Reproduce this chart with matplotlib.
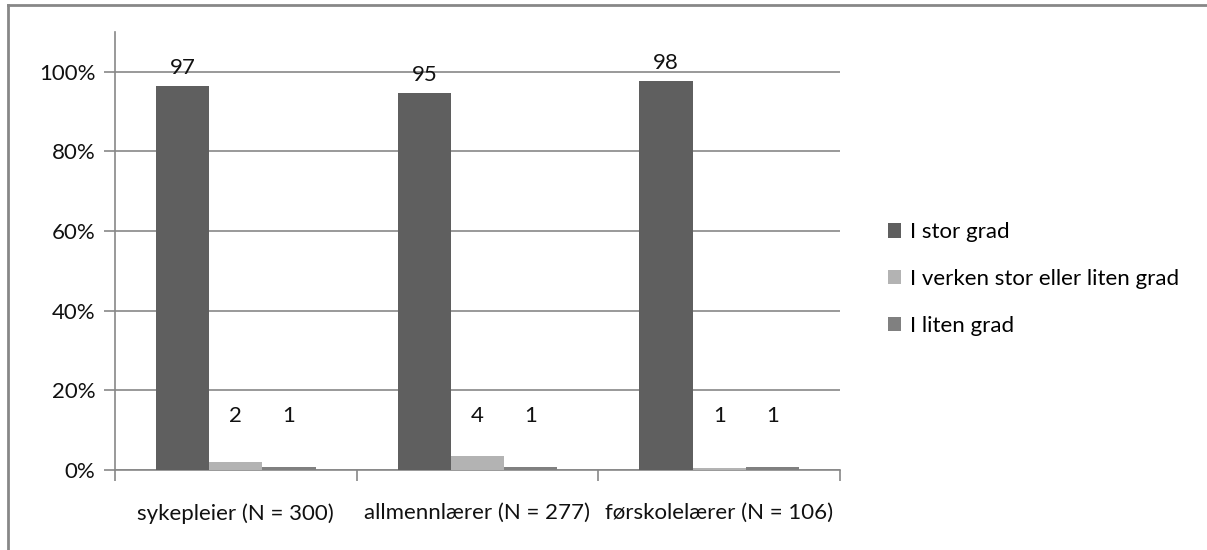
import numpy as np
import matplotlib.pyplot as plt
import matplotlib.ticker as mticker
from matplotlib.lines import Line2D

# ── Data ───────────────────────────────────────────────────────────────────────
categories = ["sykepleier (N = 300)", "allmennlærer (N = 277)", "førskolelærer (N = 106)"]
series = ["I stor grad", "I verken stor eller liten grad", "I liten grad"]
stor = [0.965, 0.948, 0.976]
verken = [0.021, 0.036, 0.005]
liten = [0.007, 0.007, 0.007]
labels_stor = ["97", "95", "98"]
labels_verken = ["2", "4", "1"]
labels_liten = ["1", "1", "1"]
y_ticks = [0, 0.2, 0.4, 0.6, 0.8, 1.0]

# ── Style ──────────────────────────────────────────────────────────────────────
DARK = "#5f5f5f"
LIGHT = "#b3b3b3"
MID = "#808080"
AXIS = "#878787"
TEXT = "#111111"
FS = 16

plt.rcParams["font.family"] = ["Lato", "DejaVu Sans"]

fig = plt.figure(figsize=(12.07, 5.5), dpi=100)
ax = fig.add_axes([115 / 1207, 1 - 470 / 550, 725 / 1207, 438 / 550])

# outer chart frame (top and left edges visible)
fig.add_artist(Line2D([8 / 1207, 8 / 1207], [0, 1 - 5 / 550], transform=fig.transFigure,
                      color=AXIS, lw=2))
fig.add_artist(Line2D([8 / 1207, 1], [1 - 5 / 550, 1 - 5 / 550], transform=fig.transFigure,
                      color=AXIS, lw=2))

x = np.arange(len(categories))
w = 0.22
data = [stor, verken, liten]
labs = [labels_stor, labels_verken, labels_liten]
colors = [DARK, LIGHT, MID]
for i, (vals, lab, c, name) in enumerate(zip(data, labs, colors, series)):
    xs = x + (i - 1) * w
    ax.bar(xs, vals, width=w, color=c, label=name, zorder=3)
    for xi, v, t in zip(xs, vals, lab):
        ax.text(xi, max(v + 0.045, 0.135), t, ha="center", va="center",
                fontsize=FS, color=TEXT, zorder=4)

ax.set_xlim(-0.5, len(categories) - 0.5)
ax.set_ylim(0, 1.1)
ax.set_yticks(y_ticks)
ax.yaxis.set_major_formatter(mticker.FuncFormatter(lambda v, _: f"{v * 100:.0f}%"))
ax.grid(axis="y", color=AXIS, lw=1.2, zorder=0)

ax.set_xticks(x)
ax.set_xticklabels(categories)
ax.set_xticks(np.arange(len(categories) + 1) - 0.5, minor=True)
ax.tick_params(axis="x", which="major", length=0, pad=24, labelsize=FS, labelcolor=TEXT)
ax.tick_params(axis="x", which="minor", length=8, width=1.2, color=AXIS)
ax.tick_params(axis="y", length=8, width=1.2, color=AXIS, labelsize=FS,
               labelcolor=TEXT, pad=6)

for s in ["top", "right"]:
    ax.spines[s].set_visible(False)
for s in ["left", "bottom"]:
    ax.spines[s].set_color(AXIS)
    ax.spines[s].set_linewidth(1.2)

ax.legend(loc="center left", bbox_to_anchor=(868 / 1207, 1 - 279 / 550),
          bbox_transform=fig.transFigure, frameon=False, fontsize=FS,
          handlelength=0.6, handleheight=0.6, handletextpad=0.4, labelspacing=1.2)

plt.savefig("out.png", dpi=100, facecolor="white")
